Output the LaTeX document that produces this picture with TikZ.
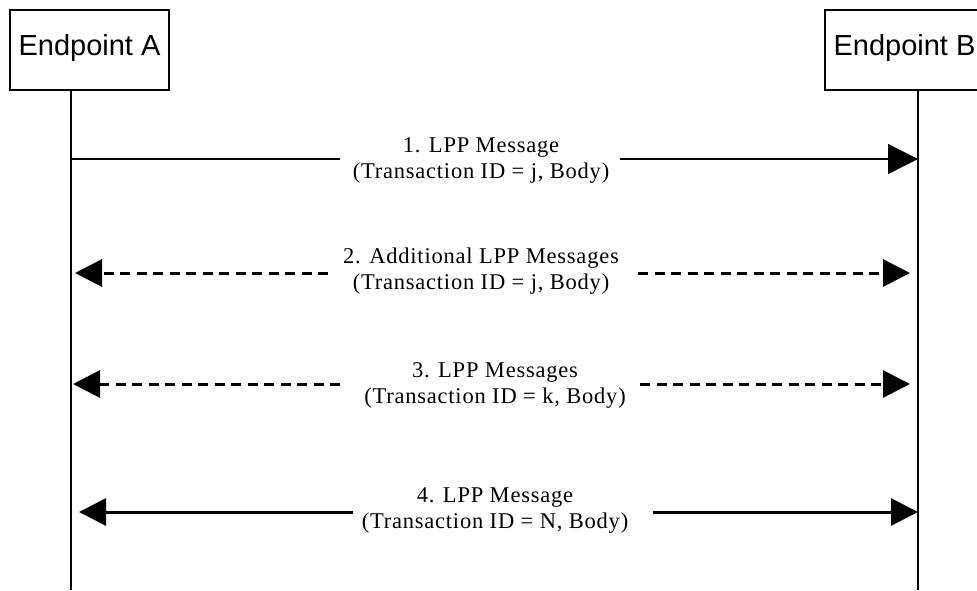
\documentclass[tikz,border=0pt]{standalone}
\usepackage{fontspec}
\setmainfont{Liberation Serif}
\newfontfamily\epfont{Liberation Sans}
\usetikzlibrary{arrows.meta}
\begin{document}
\begin{tikzpicture}[x=1pt,y=-1pt,
  epbox/.style={draw,line width=1.3pt,minimum width=159pt,minimum height=80pt,inner sep=0pt,
    font=\epfont\fontsize{29}{34}\selectfont,text height=21pt,text depth=11pt},
  lifeline/.style={line width=1.3pt},
  msgtext/.style={anchor=base,inner sep=0pt,font=\fontsize{22.5}{27}\selectfont\addfontfeatures{LetterSpace=3.5}},
  thinmsg/.style={line width=1.3pt},
  dashmsg/.style={line width=3pt,dash pattern=on 10pt off 6.5pt},
  thickmsg/.style={line width=3pt},
  bighead/.style={-{Triangle[length=30pt,width=30pt]}},
  midhead/.style={-{Triangle[length=27pt,width=27pt]}}
]
\useasboundingbox (0,0) rectangle (977,590);
\clip (0,0) rectangle (977,590);
\fill[white] (0,0) rectangle (977,590);

% endpoints
\node[epbox] (boxA) at (89.5,50) {Endpoint A};
\node[epbox] (boxB) at (904.5,50) {Endpoint B};

% lifelines
\coordinate (lA) at (71,90);
\coordinate (lB) at (918,90);
\coordinate (lAend) at (71,590);
\coordinate (lBend) at (918,590);
\draw[lifeline] (lA) -- (lAend);
\draw[lifeline] (lB) -- (lBend);

% message 1
\node[msgtext] (m1a) at (481,152) {1. LPP Message};
\node[msgtext] (m1b) at (481,178) {(Transaction ID = j, Body)};
\coordinate (a1L) at (71,159);
\coordinate (a1gl) at (340,159);
\coordinate (a1gr) at (620,159);
\coordinate (a1R) at (918,159);
\draw[thinmsg] (a1L) -- (a1gl);
\draw[thinmsg,bighead] (a1gr) -- (a1R);

% message 2
\node[msgtext] (m2a) at (481,263) {2. Additional LPP Messages};
\node[msgtext] (m2b) at (481,289) {(Transaction ID = j, Body)};
\coordinate (a2L) at (75,273);
\coordinate (a2gl) at (328,273);
\coordinate (a2gr) at (638,273);
\coordinate (a2R) at (910,273);
\draw[dashmsg,midhead] (a2gl) -- (a2L);
\draw[dashmsg,midhead] (a2gr) -- (a2R);

% message 3
\node[msgtext] (m3a) at (495,377) {3. LPP Messages};
\node[msgtext] (m3b) at (495,403) {(Transaction ID = k, Body)};
\coordinate (a3L) at (73,384);
\coordinate (a3gl) at (340,384);
\coordinate (a3gr) at (640,384);
\coordinate (a3R) at (910,384);
\draw[dashmsg,midhead] (a3gl) -- (a3L);
\draw[dashmsg,midhead] (a3gr) -- (a3R);

% message 4
\node[msgtext] (m4a) at (495,502) {4. LPP Message};
\node[msgtext] (m4b) at (495,528) {(Transaction ID = N, Body)};
\coordinate (a4L) at (79,512);
\coordinate (a4gl) at (353,512);
\coordinate (a4gr) at (653,512);
\coordinate (a4R) at (918,512);
\draw[thickmsg,midhead] (a4gl) -- (a4L);
\draw[thickmsg,midhead] (a4gr) -- (a4R);
\end{tikzpicture}
\end{document}
